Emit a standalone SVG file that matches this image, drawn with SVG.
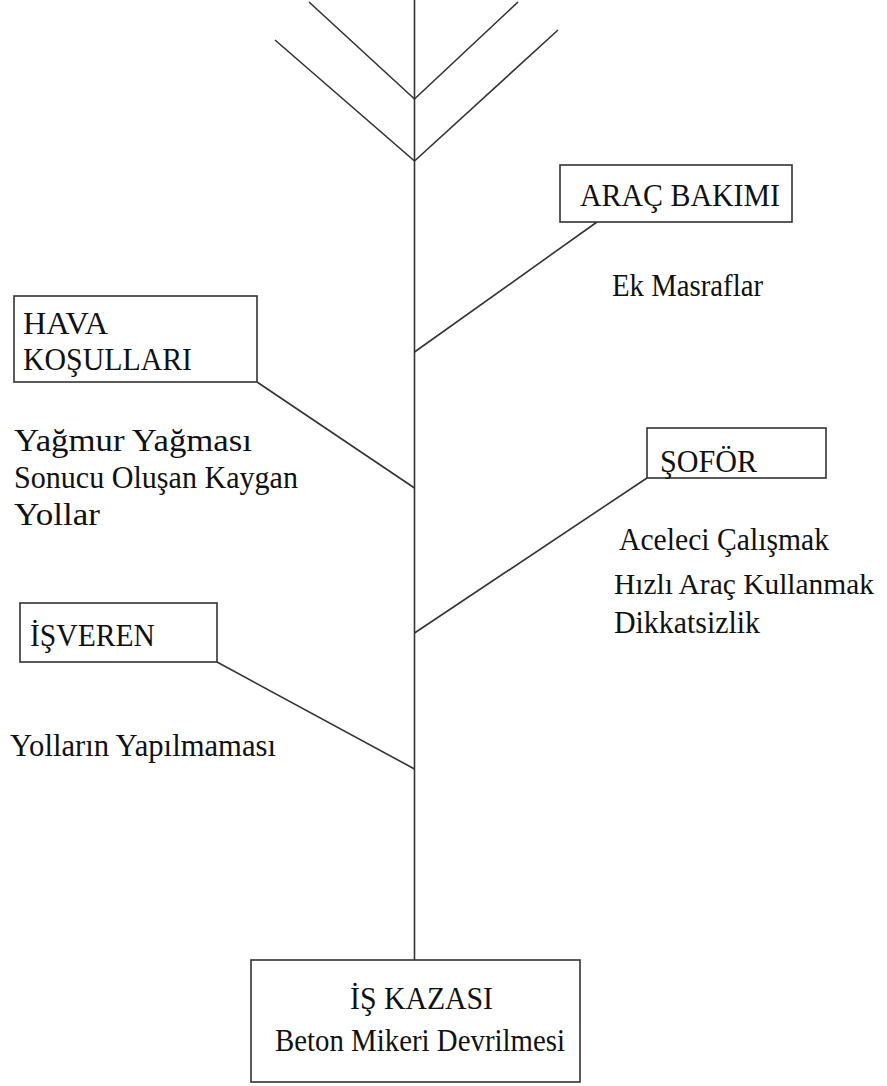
<svg xmlns="http://www.w3.org/2000/svg" width="887" height="1086" viewBox="0 0 887 1086">
<style>
.box{fill:#fff;stroke:#333;stroke-width:1.6}
.ln{stroke:#333;stroke-width:1.6;fill:none}
.t{font-family:'Liberation Serif','Times New Roman',serif;font-size:32px;fill:#111}
</style>
<rect width="887" height="1086" fill="#fff"/>
<g id="connectors">
<line class="ln" x1="414.5" y1="0" x2="414.5" y2="960"/>
<polyline class="ln" points="309,2 414.5,99 518,2"/>
<polyline class="ln" points="275,40 414.5,161 558,30"/>
<line class="ln" x1="597" y1="222" x2="414.5" y2="352"/>
<line class="ln" x1="257" y1="382" x2="414.5" y2="488"/>
<line class="ln" x1="647" y1="478" x2="414.5" y2="633"/>
<line class="ln" x1="217" y1="662" x2="414.5" y2="769"/>
</g>
<g id="arac" class="t">
<rect class="box" x="560" y="165" width="232" height="57"/>
<text x="580" y="206" textLength="200" lengthAdjust="spacingAndGlyphs">ARAÇ BAKIMI</text>
<text x="612" y="296" textLength="151" lengthAdjust="spacingAndGlyphs">Ek Masraflar</text>
</g>
<g id="hava" class="t">
<rect class="box" x="14" y="296" width="243" height="86"/>
<text x="23" y="334" textLength="85" lengthAdjust="spacingAndGlyphs">HAVA</text>
<text x="23" y="370" textLength="169" lengthAdjust="spacingAndGlyphs">KOŞULLARI</text>
<text x="14" y="451" textLength="238" lengthAdjust="spacingAndGlyphs">Yağmur Yağması</text>
<text x="14" y="488" textLength="284" lengthAdjust="spacingAndGlyphs">Sonucu Oluşan Kaygan</text>
<text x="14" y="525" textLength="86" lengthAdjust="spacingAndGlyphs">Yollar</text>
</g>
<g id="sofor" class="t">
<rect class="box" x="647" y="428" width="179" height="50"/>
<text x="660" y="472" textLength="97" lengthAdjust="spacingAndGlyphs">ŞOFÖR</text>
<text x="619" y="550" textLength="210" lengthAdjust="spacingAndGlyphs">Aceleci Çalışmak</text>
<text x="614" y="594" font-size="29" textLength="260" lengthAdjust="spacingAndGlyphs">Hızlı Araç Kullanmak</text>
<text x="614" y="633" textLength="146" lengthAdjust="spacingAndGlyphs">Dikkatsizlik</text>
</g>
<g id="isveren" class="t">
<rect class="box" x="20" y="603" width="197" height="59"/>
<text x="30" y="646" textLength="125" lengthAdjust="spacingAndGlyphs">İŞVEREN</text>
<text x="10" y="756" textLength="266" lengthAdjust="spacingAndGlyphs">Yolların Yapılmaması</text>
</g>
<g id="kaza" class="t">
<rect class="box" x="251" y="960" width="329" height="122"/>
<text x="350" y="1009" textLength="143" lengthAdjust="spacingAndGlyphs">İŞ KAZASI</text>
<text x="275" y="1051" textLength="290" lengthAdjust="spacingAndGlyphs">Beton Mikeri Devrilmesi</text>
</g>
</svg>
